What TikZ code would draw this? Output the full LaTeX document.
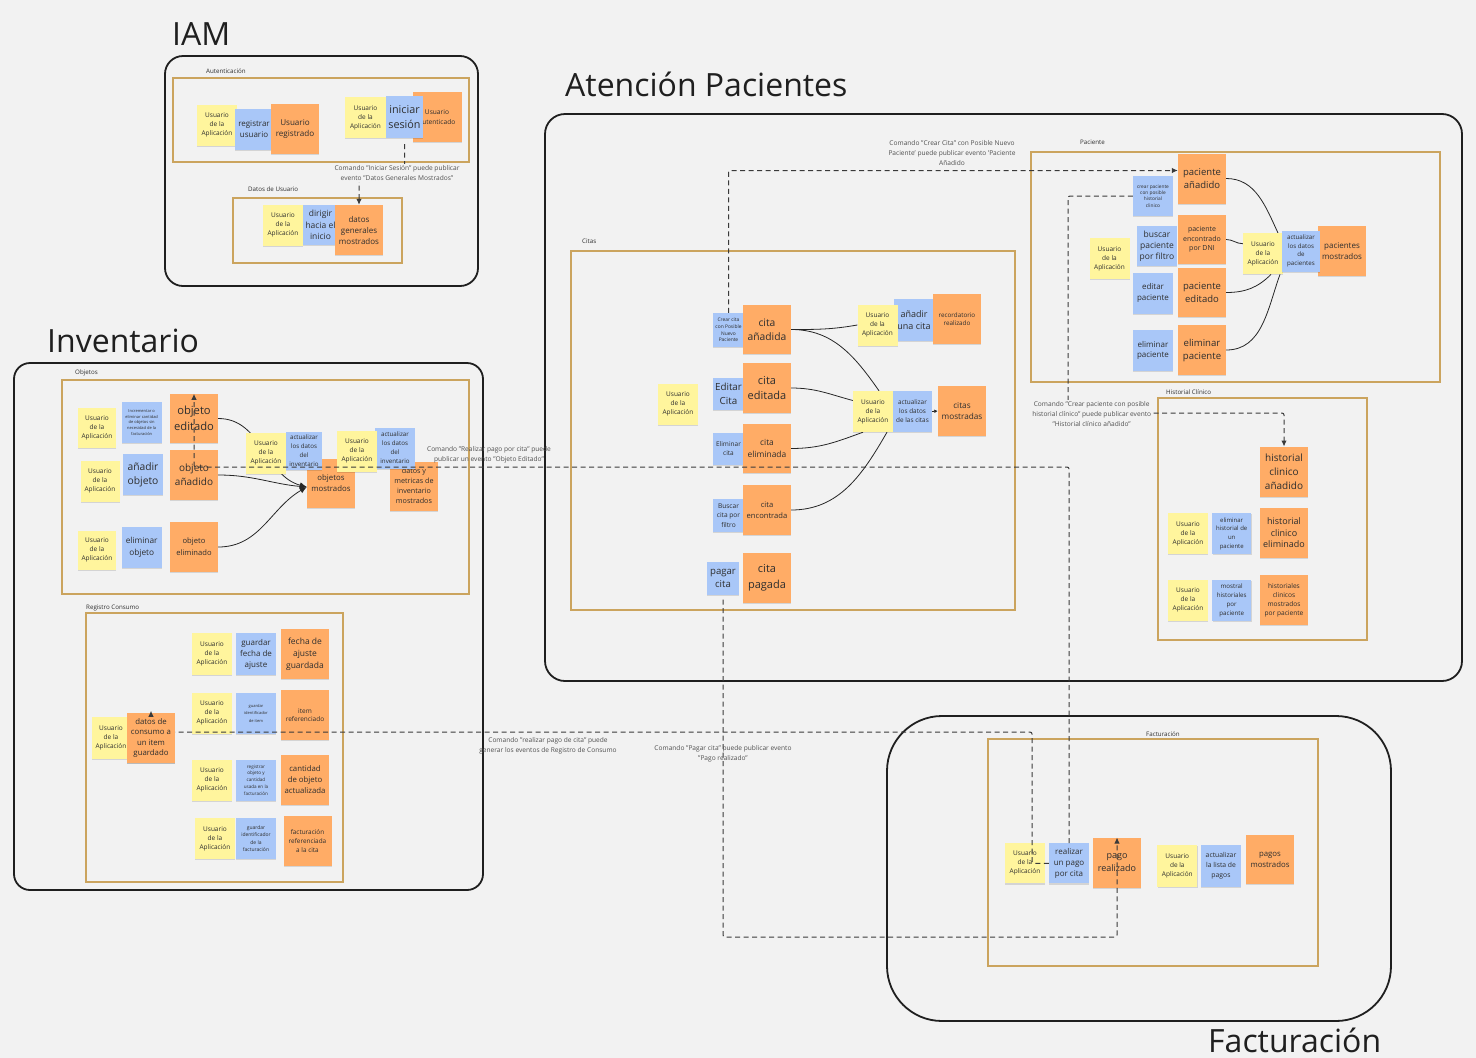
\documentclass[tikz,border=0pt]{standalone}
\usepackage{fontspec}
\setmainfont{Open Sans}
\usetikzlibrary{arrows.meta,shadows,calc}
\newcommand{\fsz}[2]{\fontsize{#1}{#2}\selectfont}
\definecolor{bgc}{HTML}{F2F2F2}
\definecolor{stY}{HTML}{FFF59D}
\definecolor{stB}{HTML}{A9C7F8}
\definecolor{stO}{HTML}{FFAC66}
\definecolor{frm}{HTML}{CBA45E}
\definecolor{txt}{HTML}{2E2E2E}
\definecolor{cmdc}{HTML}{3A3A3A}
\definecolor{lblc}{HTML}{505050}
\pgfdeclarelayer{back}
\pgfdeclarelayer{lines}
\pgfsetlayers{back,lines,main}
\tikzset{
 stk/.style={inner sep=0pt, align=center, text=txt, drop shadow={opacity=0.12, shadow xshift=0.3pt, shadow yshift=-1.2pt, fill=black}},
 yel/.style={stk, fill=stY, minimum width=40pt, minimum height=41pt, font=\fsz{6.5}{9}},
 blu/.style={stk, fill=stB, minimum width=40pt, minimum height=41pt},
 ora/.style={stk, fill=stO, minimum width=48pt, minimum height=50pt},
 zone/.style={draw=frm, line width=1.1pt},
 bigbox/.style={draw=black!88, line width=1.8pt, rounded corners=18pt},
 zlabel/.style={font=\fsz{6.2}{8}, text=txt, anchor=west, inner sep=0pt},
 cmdlbl/.style={font=\fsz{6.6}{10}, text=lblc, align=center, inner sep=1.5pt},
 cmd/.style={draw=cmdc, line width=1pt, dash pattern=on 5pt off 3.5pt, rounded corners=2pt, -{Latex[length=6pt,width=5.5pt]}},
 flow/.style={draw=black!85, line width=0.8pt},
 ttl/.style={font=\fsz{32}{38}, text=black!88, anchor=base west, inner sep=0pt},
}
\begin{document}
\begin{tikzpicture}[x=1pt,y=-1pt]
\begin{pgfonlayer}{back}
\fill[bgc] (0,0) rectangle (1476,1058);
\draw[bigbox] (165,56) rectangle (478,286);
\draw[bigbox,rounded corners=16pt] (14,363) rectangle (483,890);
\draw[bigbox,rounded corners=20pt] (545,114) rectangle (1462,681);
\draw[bigbox,rounded corners=55pt] (887,716) rectangle (1391,1021);
\draw[zone] (173,78) rectangle (469,162);
\draw[zone] (233,198) rectangle (402,263);
\draw[zone] (62,380) rectangle (469,594);
\draw[zone] (86,613) rectangle (343,882);
\draw[zone] (571,251) rectangle (1015,610);
\draw[zone] (1031,152) rectangle (1440,382);
\draw[zone] (1158,398) rectangle (1367,640);
\draw[zone] (988,739) rectangle (1318,966);
\end{pgfonlayer}
\useasboundingbox (0,0) rectangle (1476,1058);

% titles and zone labels
\node[ttl] (tIAM) at (172,45) {IAM};
\node[ttl] (tInv) at (47,352) {Inventario};
\node[ttl] (tAP) at (565,96) {Atención Pacientes};
\node[ttl] (tFac) at (1208,1052) {Facturación};
\node[zlabel] (lAut) at (206,71) {Autenticación};
\node[zlabel] (lDU) at (248,189) {Datos de Usuario};
\node[zlabel] (lObj) at (75,373) {Objetos};
\node[zlabel] (lReg) at (86,608) {Registro Consumo};
\node[zlabel] (lCit) at (582,241) {Citas};
\node[zlabel] (lPac) at (1080,142) {Paciente};
\node[zlabel] (lHis) at (1166,392) {Historial Clínico};
\node[zlabel] (lFac) at (1146,734) {Facturación};

% IAM
\node[yel] (yA1) at (217,125) {Usuario\\de la\\Aplicación};
\node[blu,minimum width=38pt,font=\fsz{8}{11}] (bA1) at (254,129.5) {registrar\\usuario};
\node[ora,font=\fsz{8.1}{11}] (oA1) at (295,129) {Usuario\\registrado};
\node[yel,minimum width=41pt] (yA2) at (365.5,117.5) {Usuario\\de la\\Aplicación};
\node[ora,minimum width=49pt,font=\fsz{6.6}{9.5}] (oA2) at (437,117) {Usuario\\autenticado};
\node[blu,minimum width=37pt,minimum height=42pt,font=\fsz{10.8}{15}] (bA2) at (404.5,117) {iniciar\\sesión};
\node[yel] (yDU) at (283,225) {Usuario\\de la\\Aplicación};
\node[blu,minimum width=35pt,minimum height=40pt,font=\fsz{8.5}{11.2}] (bDU) at (320.5,225) {dirigir\\hacia el\\inicio};
\node[ora,font=\fsz{8}{11}] (oDG) at (359,230) {datos\\generales\\mostrados};

% Inventario - Objetos
\node[yel,minimum width=38pt,minimum height=40pt] (yO1) at (97,428) {Usuario\\de la\\Aplicación};
\node[blu,font=\fsz{4}{5.8}] (bO1) at (141.7,422.5) {Incrementar o\\eliminar cantidad\\de objetos sin\\necesidad de la\\facturación};
\node[ora,minimum height=49pt,font=\fsz{11.2}{16}] (oO1) at (194,418.5) {objeto\\editado};
\node[yel,minimum width=39pt] (yO2) at (100,481) {Usuario\\de la\\Aplicación};
\node[blu,font=\fsz{10.3}{14}] (bO2) at (143,474.5) {añadir\\objeto};
\node[ora,font=\fsz{10}{14}] (oO2) at (194,475) {objeto\\añadido};
\node[yel,minimum width=38pt,minimum height=39pt] (yO3) at (97,550) {Usuario\\de la\\Aplicación};
\node[blu,font=\fsz{8.3}{12}] (bO3) at (141.7,547.5) {eliminar\\objeto};
\node[ora,font=\fsz{7.6}{12}] (oO3) at (194,547) {objeto\\eliminado};
\node[ora,minimum height=49pt,font=\fsz{7.8}{11}] (oM1) at (331,483.5) {objetos\\mostrados};
\node[blu,minimum width=36pt,minimum height=38pt,font=\fsz{6.2}{9}] (bM1) at (304,451) {actualizar\\los datos\\del\\inventario};
\node[yel] (yM1) at (266,453) {Usuario\\de la\\Aplicación};
\node[ora,minimum height=49pt,font=\fsz{7.2}{10}] (oM2) at (414,486) {datos y\\metricas de\\inventario\\mostrados};
\node[blu,font=\fsz{6.2}{9}] (bM2) at (395,448) {actualizar\\los datos\\del\\inventario};
\node[yel] (yM2) at (357,451) {Usuario\\de la\\Aplicación};

% Inventario - Registro Consumo
\node[yel,minimum width=39pt,minimum height=42pt] (yRC) at (111,738) {Usuario\\de la\\Aplicación};
\node[ora,font=\fsz{7.8}{10.5}] (oDC) at (151,738) {datos de\\consumo a\\un item\\guardado};
\node[yel,minimum height=42pt] (yR1) at (212,654) {Usuario\\de la\\Aplicación};
\node[blu,minimum height=42pt,font=\fsz{8}{11}] (bR1) at (256,654) {guardar\\fecha de\\ajuste};
\node[ora,font=\fsz{8.5}{12}] (oR1) at (305,654) {fecha de\\ajuste\\guardada};
\node[yel] (yR2) at (212,713) {Usuario\\de la\\Aplicación};
\node[blu,font=\fsz{4}{7.5}] (bR2) at (256,713) {guardar\\identificador\\de item};
\node[ora,font=\fsz{6.5}{8.5}] (oR2) at (305,715) {item\\referenciado};
\node[yel] (yR3) at (212,780) {Usuario\\de la\\Aplicación};
\node[blu,font=\fsz{4.6}{6.7}] (bR3) at (256,780) {registrar\\objeto y\\cantidad\\usada en la\\facturación};
\node[ora,font=\fsz{7.8}{11}] (oR3) at (305,780) {cantidad\\de objeto\\actualizada};
\node[yel] (yR4) at (215,838.5) {Usuario\\de la\\Aplicación};
\node[blu,font=\fsz{5}{7.3}] (bR4) at (256,838.5) {guardar\\identificador\\de la\\facturación};
\node[ora,font=\fsz{6.4}{9}] (oR4) at (307.5,841) {facturación\\referenciada\\a la cita};

% Citas
\node[blu,minimum width=31pt,minimum height=34pt,font=\fsz{4.9}{6.8}] (bCC) at (728.5,330) {Crear cita\\con Posible\\Nuevo\\Paciente};
\node[ora,minimum height=49pt,font=\fsz{10.3}{14}] (oCA) at (767,329.5) {cita\\añadida};
\node[yel] (yCT) at (678,404) {Usuario\\de la\\Aplicación};
\node[blu,minimum width=31pt,minimum height=32pt,font=\fsz{9.8}{13.5}] (bCE) at (728.5,394) {Editar\\Cita};
\node[ora,font=\fsz{11}{15}] (oCE) at (767,388) {cita\\editada};
\node[blu,minimum width=31pt,minimum height=32pt,font=\fsz{6.5}{9}] (bCEl) at (728.5,449) {Eliminar\\cita};
\node[ora,minimum height=49pt,font=\fsz{8.4}{11.5}] (oCEl) at (767,448.5) {cita\\eliminada};
\node[blu,minimum width=31pt,minimum height=33pt,font=\fsz{6.6}{9.5}] (bCB) at (728.5,515.5) {Buscar\\cita por\\filtro};
\node[ora,font=\fsz{7.6}{11}] (oCB) at (767,510) {cita\\encontrada};
\node[blu,minimum width=32pt,minimum height=33pt,font=\fsz{9.6}{13}] (bPC) at (723,578) {pagar\\cita};
\node[ora,font=\fsz{11}{16}] (oCP) at (767,578) {cita\\pagada};
\node[blu,minimum height=42pt,font=\fsz{9}{12.5}] (bC1) at (914,320) {añadir\\una cita};
\node[yel] (yC1) at (877.5,325) {Usuario\\de la\\Aplicación};
\node[ora,font=\fsz{6.3}{8.3}] (oC1) at (957,319) {recordatorio\\realizado};
\node[yel] (yC2) at (873,411.5) {Usuario\\de la\\Aplicación};
\node[blu,minimum width=39pt,font=\fsz{6.4}{9}] (bC2) at (912.5,411.5) {actualizar\\los datos\\de las citas};
\node[ora,font=\fsz{8.2}{10.5}] (oC2) at (962,411) {citas\\mostradas};

% Paciente
\node[blu,minimum height=40pt,font=\fsz{4.8}{6.4}] (bCP) at (1153,196) {crear paciente\\con posible\\historial\\clinico};
\node[ora,font=\fsz{9.5}{12.7}] (oPA) at (1202,178.5) {paciente\\añadido};
\node[yel] (yPT) at (1109.5,258.5) {Usuario\\de la\\Aplicación};
\node[blu,minimum height=40pt,font=\fsz{8.5}{11}] (bPB) at (1157,246) {buscar\\paciente\\por filtro};
\node[ora,minimum height=49pt,font=\fsz{7}{9.5}] (oPE) at (1202,239.5) {paciente\\encontrado\\por DNI};
\node[blu,font=\fsz{8}{11}] (bPEd) at (1153,293) {editar\\paciente};
\node[ora,minimum height=49pt,font=\fsz{9.5}{12.7}] (oPEd) at (1202,292.5) {paciente\\editado};
\node[blu,font=\fsz{8}{10.5}] (bPEl) at (1153,350.5) {eliminar\\paciente};
\node[ora,font=\fsz{9.6}{13}] (oPEl) at (1202,350) {eliminar\\paciente};
\node[yel] (yP2) at (1263,253.7) {Usuario\\de la\\Aplicación};
\node[ora,font=\fsz{8}{11}] (oP2) at (1342,251) {pacientes\\mostrados};
\node[blu,minimum width=38pt,font=\fsz{6.2}{8.5}] (bP2) at (1301,251) {actualizar\\los datos\\de\\pacientes};

% Historial Clinico
\node[ora,font=\fsz{10}{14}] (oHA) at (1284,471.7) {historial\\clinico\\añadido};
\node[yel] (yH1) at (1188,533.7) {Usuario\\de la\\Aplicación};
\node[blu,minimum width=39pt,font=\fsz{6}{8.7}] (bH1) at (1231.7,533.7) {eliminar\\historial de\\un\\paciente};
\node[ora,font=\fsz{9}{11.7}] (oH1) at (1284,532.7) {historial\\clinico\\eliminado};
\node[yel] (yH2) at (1188,600.3) {Usuario\\de la\\Aplicación};
\node[blu,minimum width=39pt,font=\fsz{6.2}{9}] (bH2) at (1231.7,600.3) {mostral\\historiales\\por\\paciente};
\node[ora,font=\fsz{6.6}{9}] (oH2) at (1284,600) {historiales\\clinicos\\mostrados\\por paciente};

% Facturacion
\node[yel,minimum height=40pt] (yF1) at (1025,863.3) {Usuario\\de la\\Aplicación};
\node[blu,minimum height=40pt,font=\fsz{8}{11}] (bRP) at (1069,863.3) {realizar\\un pago\\por cita};
\node[ora,font=\fsz{9}{12.5}] (oPR) at (1117,862.7) {pago\\realizado};
\node[yel,minimum height=42pt] (yF2) at (1177.3,865.8) {Usuario\\de la\\Aplicación};
\node[blu,minimum height=42pt,font=\fsz{6.8}{10}] (bF2) at (1221,865.8) {actualizar\\la lista de\\pagos};
\node[ora,minimum height=49pt,font=\fsz{7.8}{10.7}] (oF2) at (1270,859.7) {pagos\\mostrados};

% flow curves (under stickies)
\begin{pgfonlayer}{lines}
\draw[flow,-{Latex[length=7pt,width=6pt]}] (oO1.east) to[out=0,in=165] ([yshift=-3.5pt]oM1.west);
\draw[flow,-{Latex[length=7pt,width=6pt]}] (oO2.east) to[out=0,in=175] ([yshift=-3.5pt]oM1.west);
\draw[flow,-{Latex[length=7pt,width=6pt]}] (oO3.east) to[out=0,in=210] ([yshift=-3.5pt]oM1.west);
\draw[flow] (oCA.east) to[out=0,in=190] (yC1.west);
\draw[flow] (oCA.east) to[out=0,in=125] ([xshift=6pt]yC2.north);
\draw[flow] (oCE.east) to[out=0,in=165] ([yshift=11pt]yC2.west);
\draw[flow] (oCEl.east) to[out=0,in=200] ([xshift=-10pt]yC2.south);
\draw[flow] (oCB.east) to[out=0,in=240] ([xshift=14pt]yC2.south);
\draw[flow] (oPA.east) to[out=0,in=115] ([xshift=15pt]yP2.north);
\draw[flow] (oPE.east) to[out=0,in=180] ([yshift=10pt]yP2.west);
\draw[flow] (oPEd.east) to[out=0,in=225] ([xshift=8pt]yP2.south);
\draw[flow] (oPEl.east) to[out=0,in=250] ([xshift=17pt]yP2.south);
\end{pgfonlayer}
\draw[flow,-{Latex[length=3.5pt,width=3.5pt]}] (bC2.east) -- (oC2.west);

% command connectors
\coordinate (iamJ) at (359,173);
\draw[cmd] ([yshift=-6pt]bA2.south) |- (iamJ) -- (oDG.north);
\node[cmdlbl,fill=bgc] (lblIAM) at (397,173.3) {Comando "Iniciar Sesión" puede publicar\\evento "Datos Generales Mostrados"};

\coordinate (invJ) at (194,467);
\draw[cmd] (bRP.north) |- (invJ) -- (oO1.north);
\node[cmdlbl] (lblInv) at (489,455) {Comando "Realizar pago por cita" puede\\publicar un evento "Objeto Editado"};

\coordinate (regJ) at (1032,732);
\draw[cmd,-] (bRP.west) -| (regJ) -| (oDC.north);
\node[ora,font=\fsz{7.8}{10.5}] (oDCtop) at (oDC.center) {datos de\\consumo a\\un item\\guardado};
\draw[cmdc,line width=0.9pt,-{Latex[length=6pt,width=5.5pt]}] ([yshift=-4pt]oDC.north) -- ([yshift=2pt]oDC.north);
\node[cmdlbl] (lblReg) at (548,745.5) {Comando "realizar pago de cita" puede\\generar los eventos de Registro de Consumo};

\coordinate (facJ) at (1117,937);
\draw[cmd] ([yshift=-5pt]bPC.south) |- (facJ) -- (oPR.north);
\node[cmdlbl] (lblPag) at (723,753.3) {Comando "Pagar cita" puede publicar evento\\"Pago realizado"};

\draw[cmd] (bCC.north) |- ([yshift=8pt]oPA.west);
\node[cmdlbl] (lblCC) at (952,153.3) {Comando "Crear Cita" con Posible Nuevo\\Paciente' puede publicar evento 'Paciente\\Añadido};

\coordinate (cpJ) at (1068,413);
\draw[cmd] (bCP.west) -| (cpJ) -| (oHA.north);
\node[cmdlbl,fill=bgc] (lblCP) at (1091.7,414) {Comando "Crear paciente con posible\\historial clínico" puede publicar evento\\"Historial clínico añadido"};
\end{tikzpicture}
\end{document}
